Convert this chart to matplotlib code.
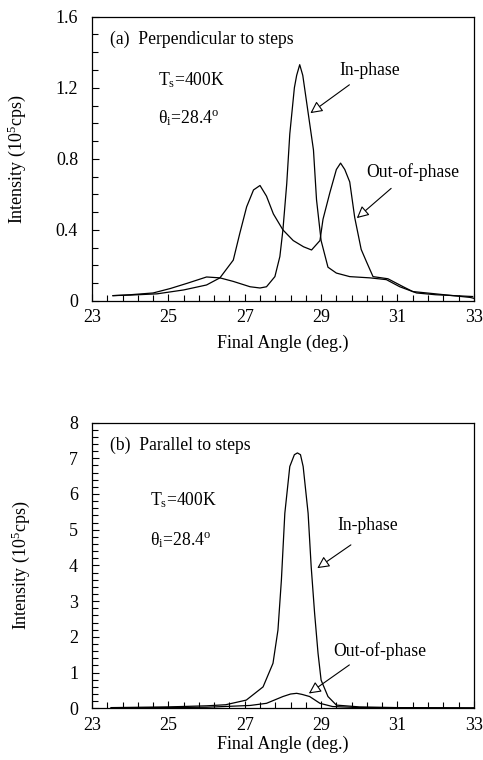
import matplotlib.pyplot as plt
from matplotlib.ticker import MultipleLocator, FormatStrFormatter, FuncFormatter

plt.rcParams['font.family'] = ['Liberation Serif', 'DejaVu Serif']
plt.rcParams['mathtext.fontset'] = 'custom'
plt.rcParams['mathtext.rm'] = 'Liberation Serif'
plt.rcParams['mathtext.it'] = 'Liberation Serif:italic'

# (a) perpendicular to steps
a_in_x = [23.55, 24.0, 24.6, 25.05, 25.5, 26.0, 26.35, 26.7, 27.14, 27.4, 27.57, 27.79,
          27.92, 28.0, 28.1, 28.18, 28.3, 28.36, 28.44, 28.52, 28.66, 28.8, 28.88, 29.0,
          29.18, 29.4, 29.75, 30.28, 30.71, 31.06, 31.5, 32.0, 32.97]
a_in_y = [0.03, 0.035, 0.045, 0.07, 0.10, 0.135, 0.13, 0.11, 0.08, 0.073, 0.08, 0.137,
          0.25, 0.40, 0.66, 0.94, 1.20, 1.27, 1.33, 1.27, 1.06, 0.85, 0.57, 0.34,
          0.19, 0.157, 0.137, 0.13, 0.12, 0.08, 0.045, 0.035, 0.025]
a_out_x = [23.55, 24.0, 24.7, 25.4, 26.0, 26.35, 26.7, 26.87, 27.05, 27.23, 27.4, 27.57,
           27.75, 28.0, 28.27, 28.54, 28.75, 28.97, 29.05, 29.23, 29.4, 29.51, 29.62, 29.75,
           29.88, 30.05, 30.19, 30.36, 30.75, 31.15, 31.4, 32.0, 32.9, 33.0]
a_out_y = [0.03, 0.033, 0.04, 0.062, 0.09, 0.13, 0.23, 0.38, 0.53, 0.625, 0.65, 0.59,
           0.49, 0.40, 0.34, 0.305, 0.287, 0.34, 0.46, 0.61, 0.74, 0.776, 0.74, 0.67,
           0.47, 0.29, 0.22, 0.137, 0.125, 0.08, 0.053, 0.04, 0.02, 0.015]

# (b) parallel to steps
b_in_x = [23.5, 25.0, 26.0, 26.5, 27.04, 27.48, 27.74, 27.87, 27.96, 28.05, 28.18, 28.3,
          28.38, 28.46, 28.53, 28.66, 28.74, 28.83, 28.92, 29.0, 29.18, 29.4, 30.0, 31.0, 33.0]
b_in_y = [0.02, 0.04, 0.07, 0.10, 0.23, 0.60, 1.26, 2.19, 3.59, 5.46, 6.77, 7.10,
          7.15, 7.10, 6.77, 5.46, 3.97, 2.66, 1.54, 0.79, 0.33, 0.09, 0.04, 0.02, 0.01]
b_out_x = [23.5, 26.0, 27.14, 27.57, 28.0, 28.2, 28.36, 28.5, 28.7, 28.97, 29.3, 30.0, 33.0]
b_out_y = [0.01, 0.03, 0.08, 0.14, 0.33, 0.40, 0.42, 0.39, 0.33, 0.14, 0.05, 0.02, 0.01]

fig = plt.figure(figsize=(4.83, 7.6), dpi=100)
ax1 = fig.add_axes([0.1905, 0.604, 0.7905, 0.374])
ax2 = fig.add_axes([0.1905, 0.068, 0.7905, 0.376])

FS = 12.7
arrow = dict(arrowstyle='-|>', fc='white', ec='black', lw=0.8, mutation_scale=18)


def setup(ax, ymax, ymajor, yminor, yfmt, ylab_x, xlab_y):
    ax.set_xlim(23, 33)
    ax.set_ylim(0, ymax)
    ax.xaxis.set_major_locator(MultipleLocator(2, offset=1))
    ax.xaxis.set_minor_locator(MultipleLocator(0.4, offset=0.2))
    ax.yaxis.set_major_locator(MultipleLocator(ymajor))
    ax.yaxis.set_minor_locator(MultipleLocator(yminor))
    ax.yaxis.set_major_formatter(yfmt)
    ax.tick_params(which='both', direction='in', top=False, right=False, labelsize=13, width=0.8)
    ax.tick_params(which='major', length=5)
    ax.tick_params(which='minor', length=4)
    ax.tick_params(axis='y', pad=10)
    ax.tick_params(axis='x', pad=6)
    for s in ax.spines.values():
        s.set_linewidth(0.9)
    ax.set_xlabel('Final Angle (deg.)', fontsize=13)
    ax.set_ylabel('Intensity (10$^5$cps)', fontsize=13)
    ax.yaxis.set_label_coords(ylab_x, 0.5)
    ax.xaxis.set_label_coords(0.5, xlab_y)


def fmt_a(v, pos):
    return '0' if v == 0 else '%.1f' % v


setup(ax1, 1.6, 0.4, 0.1, FuncFormatter(fmt_a), -0.168, -0.12)
setup(ax2, 8, 1, 0.2, FormatStrFormatter('%d'), -0.157, -0.097)

ax1.plot(a_in_x, a_in_y, color='black', lw=0.9)
ax1.plot(a_out_x, a_out_y, color='black', lw=0.9)
ax2.plot(b_in_x, b_in_y, color='black', lw=0.9)
ax2.plot(b_out_x, b_out_y, color='black', lw=0.9)

ax1.text(23.47, 1.474, '(a)  Perpendicular to steps', fontsize=FS, va='center')
ax1.text(24.73, 1.245, 'T$_\\mathrm{s}$=400K', fontsize=FS, va='center')
ax1.text(24.73, 1.03, 'θ$_\\mathrm{i}$=28.4$^\\mathrm{o}$', fontsize=FS, va='center')
ax1.text(30.28, 1.30, 'In-phase', fontsize=FS, ha='center', va='center')
ax1.text(31.41, 0.728, 'Out-of-phase', fontsize=FS, ha='center', va='center')
ax1.annotate('', xy=(28.66, 1.048), xytext=(29.8, 1.226), arrowprops=arrow)
ax1.annotate('', xy=(29.88, 0.456), xytext=(30.89, 0.644), arrowprops=arrow)

ax2.text(23.47, 7.37, '(b)  Parallel to steps', fontsize=FS, va='center')
ax2.text(24.52, 5.83, 'T$_\\mathrm{s}$=400K', fontsize=FS, va='center')
ax2.text(24.52, 4.72, 'θ$_\\mathrm{i}$=28.4$^\\mathrm{o}$', fontsize=FS, va='center')
ax2.text(30.23, 5.13, 'In-phase', fontsize=FS, ha='center', va='center')
ax2.text(30.54, 1.59, 'Out-of-phase', fontsize=FS, ha='center', va='center')
ax2.annotate('', xy=(28.84, 3.88), xytext=(29.84, 4.62), arrowprops=arrow)
ax2.annotate('', xy=(28.62, 0.37), xytext=(29.8, 1.26), arrowprops=arrow)

fig.savefig('out.png', dpi=100)
